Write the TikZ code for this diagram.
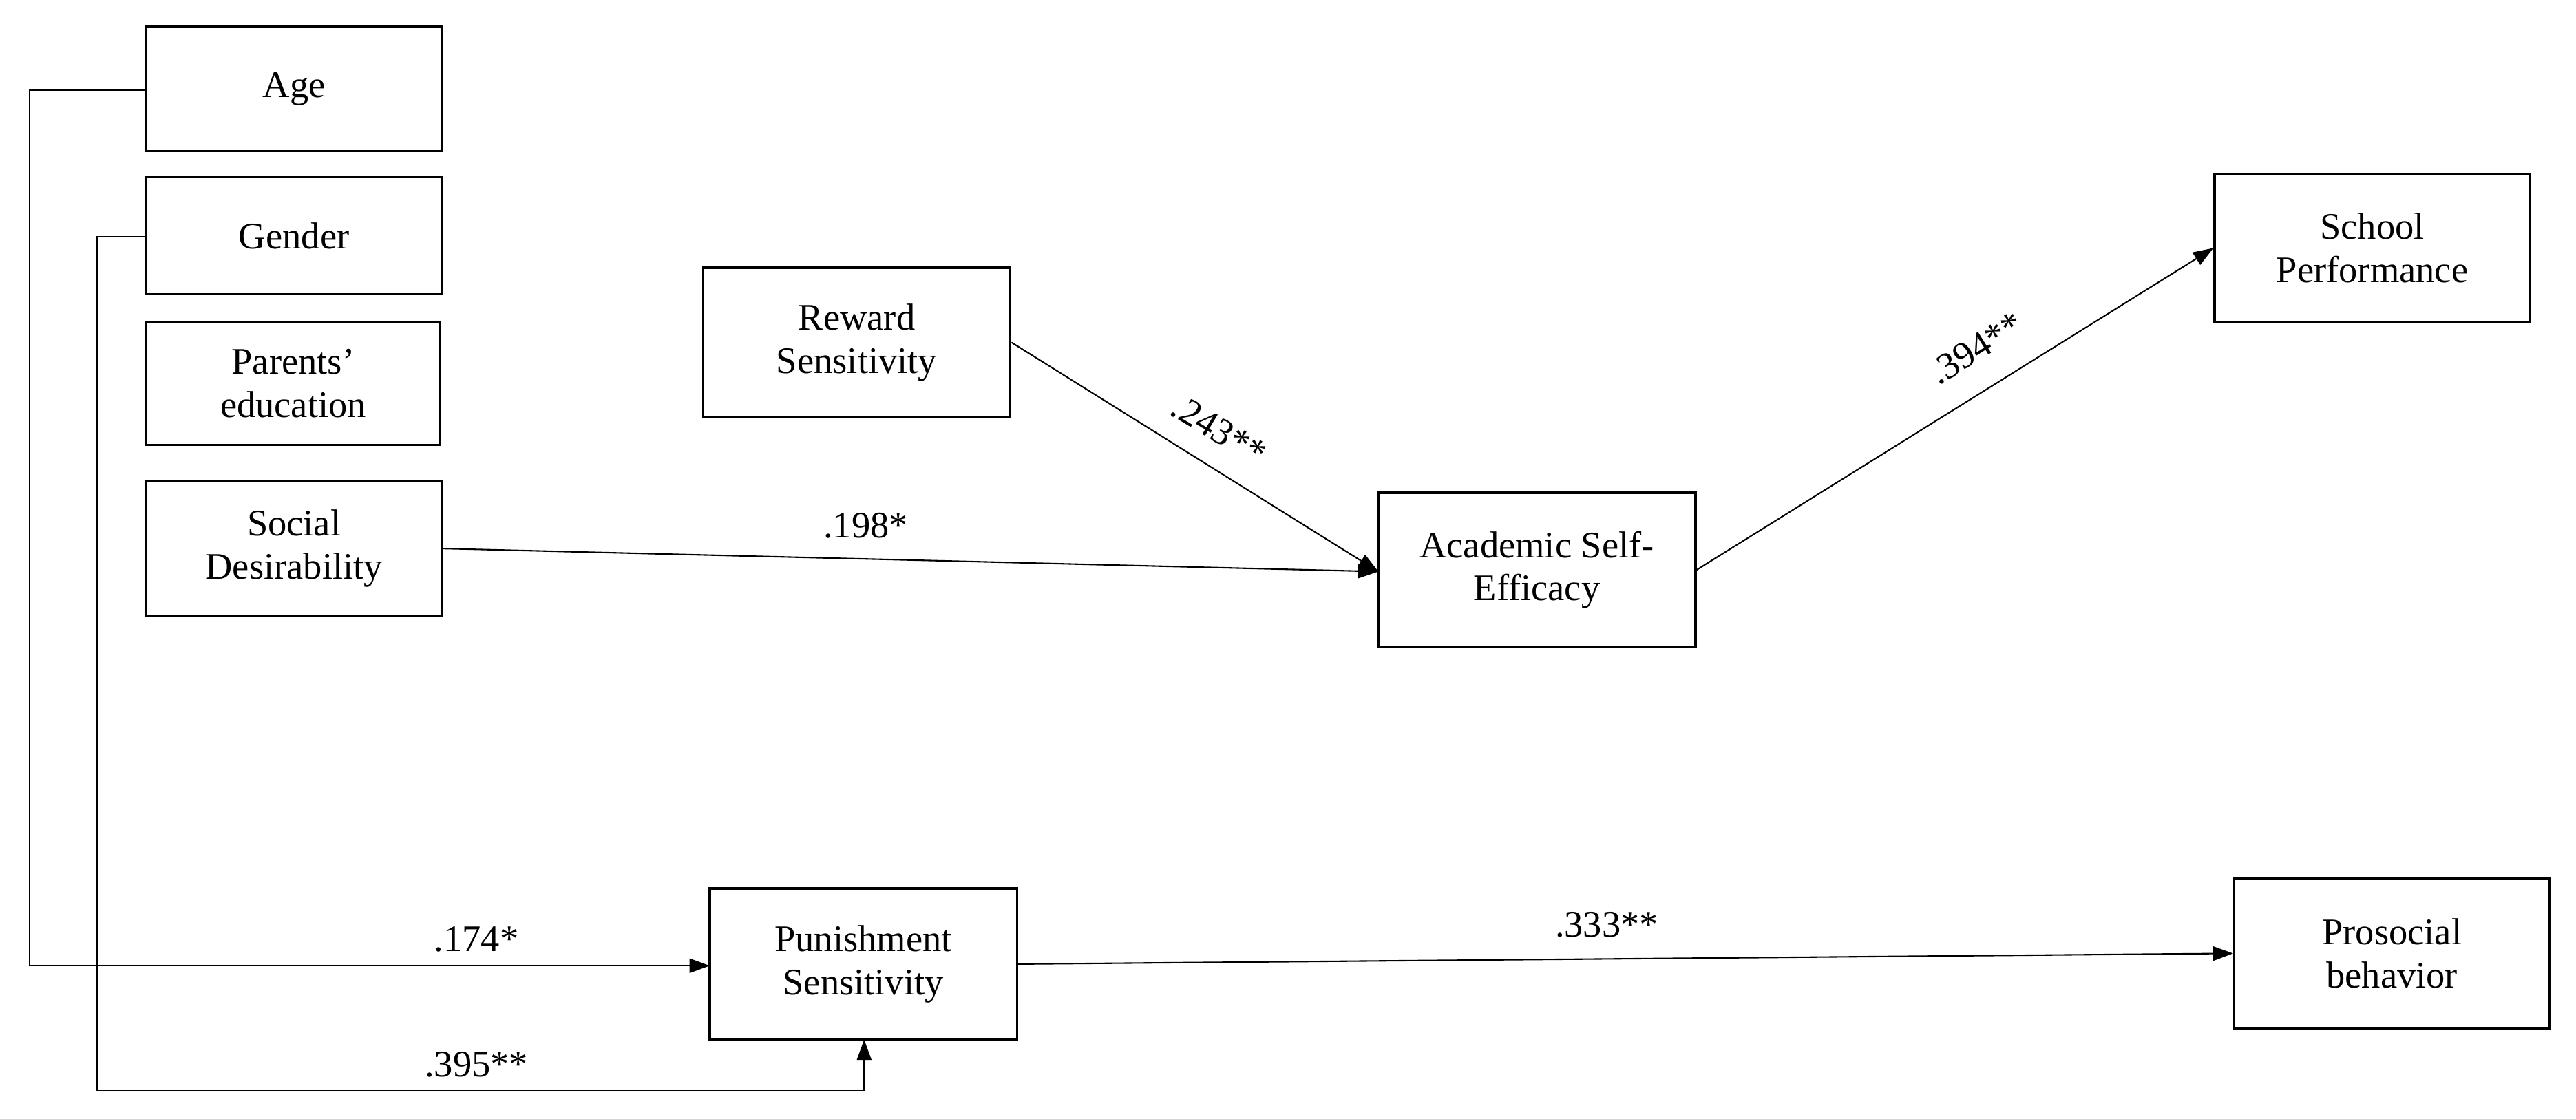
\documentclass[tikz,border=0pt]{standalone}
\usepackage{fontspec}
\setmainfont{Liberation Serif}
\usetikzlibrary{arrows.meta}
\begin{document}
\begin{tikzpicture}[x=0.02cm,y=-0.02cm,
  box/.style={draw,line width=0.8pt,align=center,font=\fontsize{13}{15}\selectfont,inner sep=0pt},
  conn/.style={line width=0.5pt,-{Triangle[length=7pt,width=5pt]}},
  lbl/.style={font=\fontsize{13}{15}\selectfont}]
\useasboundingbox (0,0) rectangle (1568,681);
\newcommand{\bx}[6]{\node[box,minimum width={(#4-#2)*0.02cm},minimum height={(#5-#3)*0.02cm}] (#1) at ({(#2+#4)/2},{(#3+#5)/2}) {#6};}
\bx{age}{89}{16}{269}{92}{Age}
\bx{gen}{89}{108}{269}{179}{Gender}
\bx{par}{89}{196}{268}{271}{Parents’\\education}
\bx{soc}{89}{293}{269}{375}{Social\\Desirability}
\bx{rew}{428}{163}{615}{254}{Reward\\Sensitivity}
\bx{ase}{839}{300}{1032}{394}{Academic Self-\\Efficacy}
\bx{sch}{1348}{106}{1540}{196}{School\\Performance}
\bx{pun}{432}{541}{619}{633}{Punishment\\Sensitivity}
\bx{pro}{1360}{535}{1552}{626}{Prosocial\\behavior}
\coordinate (ageL) at (89,55);
\coordinate (genL) at (89,144);
\coordinate (punL) at (432,588);
\coordinate (punB) at (526,633);
\coordinate (aseL) at (839,348);
\draw[conn] (ageL) -| (18,588) -- (punL);
\draw[conn] (genL) -| (59,664) -| (punB);
\draw[conn] (rew.east) -- (aseL);
\draw[conn] (soc.east) -- (aseL);
\draw[conn] (ase.east) -- (sch.west);
\draw[conn] (pun.east) -- (pro.west);
\node[lbl] at (290,572) {.174*};
\node[lbl] at (290,648) {.395**};
\node[lbl,rotate=-31] at (742,262) {.243**};
\node[lbl] at (527,320) {.198*};
\node[lbl,rotate=32] at (1203,212) {.394**};
\node[lbl] at (978,563) {.333**};
\end{tikzpicture}
\end{document}
